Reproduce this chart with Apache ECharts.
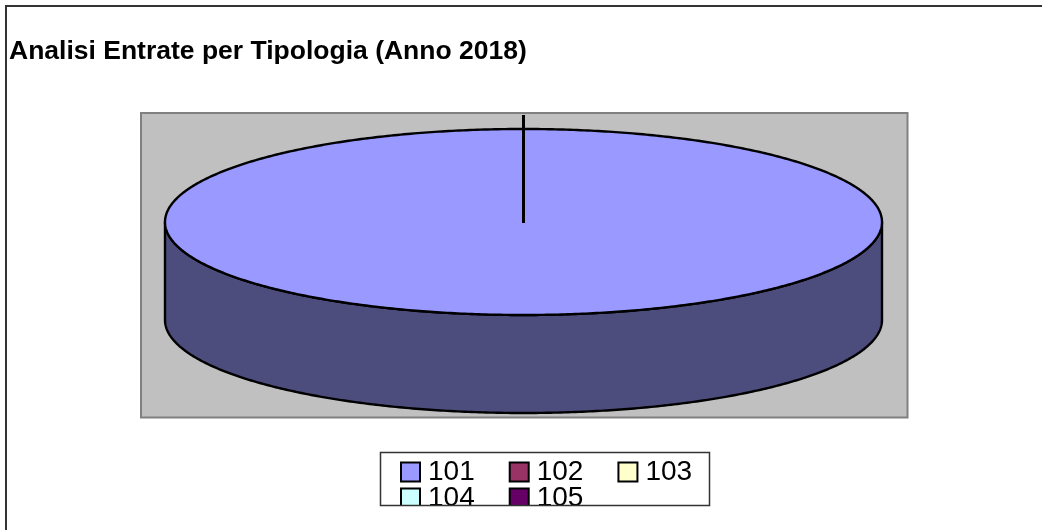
<!DOCTYPE html>
<html>
<head>
<meta charset="utf-8">
<title>Analisi Entrate per Tipologia</title>
<style>
  html, body { margin: 0; padding: 0; background: #fff; }
  #chart { width: 1042px; height: 530px; }
</style>
<script src="https://cdn.jsdelivr.net/npm/echarts@6/dist/echarts.min.js"></script>
</head>
<body>
<div id="chart"></div>
<script>
// dati: tutta la torta e' la tipologia 101
const categories = ['101', '102', '103', '104', '105'];
const values = [100, 0, 0, 0, 0];
const topColors = ['#9999ff', '#993366', '#ffffcc', '#ccffff', '#660066'];
const sideColors = ['#4d4d7d', '#4d1a33', '#808066', '#668080', '#330033'];
const titleText = 'Analisi Entrate per Tipologia (Anno 2018)';

// geometria della torta "3D"
const cx = 523.5, cy = 222, rx = 358.5, ry = 93, depth = 98;
const total = values.reduce((a, b) => a + b, 0);

function ellipsePoint(a, dy) {
  // a: angolo in radianti, 0 = ore 12, senso orario
  return [cx + rx * Math.sin(a), cy - ry * Math.cos(a) + (dy || 0)];
}

function arcPoints(a0, a1, dy) {
  const n = Math.max(2, Math.ceil(Math.abs(a1 - a0) / 0.01));
  const pts = [];
  for (let i = 0; i <= n; i++) {
    pts.push(ellipsePoint(a0 + (a1 - a0) * i / n, dy));
  }
  return pts;
}

function makeRenderItem(index) {
  return function (params, api) {
    const v = api.value(0);
    let before = 0;
    for (let i = 0; i < index; i++) before += values[i];
    if (!v) return { type: 'group', children: [] };
    const a0 = before / total * Math.PI * 2;
    const a1 = (before + v) / total * Math.PI * 2;
    const children = [];
    const lineStyle = { stroke: '#000', lineWidth: 2.4 };
    // parete laterale: solo la meta' davanti (da ore 3 a ore 9)
    const s0 = Math.max(a0, Math.PI / 2), s1 = Math.min(a1, Math.PI * 1.5);
    if (s1 > s0) {
      const front = arcPoints(s0, s1, 0);
      const back = arcPoints(s1, s0, depth);
      children.push({
        type: 'polygon',
        shape: { points: front.concat(back) },
        style: Object.assign({ fill: sideColors[index] }, lineStyle)
      });
    }
    // faccia superiore
    const top = arcPoints(a0, a1, 0);
    const full = a1 - a0 >= Math.PI * 2 - 1e-6;
    children.push({
      type: 'polygon',
      shape: { points: full ? top : top.concat([[cx, cy]]) },
      style: Object.assign({ fill: topColors[index] }, lineStyle)
    });
    // raggio di partenza e linea guida oltre il bordo
    const edge = ellipsePoint(a0);
    children.push({
      type: 'line',
      shape: { x1: cx, y1: cy + 1, x2: edge[0], y2: edge[1] - 14 },
      style: { stroke: '#000', lineWidth: 3 }
    });
    return { type: 'group', children: children };
  };
}

// una legenda per riga, per avere il passo verticale stretto dell'originale
function makeLegend(top, from, to) {
  return {
    left: 400,
    top: top,
    padding: 0,
    orient: 'horizontal',
    z: 5,
    selectedMode: false,
    itemWidth: 19,
    itemHeight: 19,
    itemGap: 34,
    icon: 'rect',
    textStyle: { fontFamily: 'Liberation Sans', fontSize: 28, color: '#000', padding: [4, 0, 0, 3] },
    data: categories.slice(from, to).map((c, i) => ({
      name: c,
      itemStyle: { color: topColors[from + i], borderColor: '#000', borderWidth: 2 }
    }))
  };
}

const chart = echarts.init(document.getElementById('chart'), null, { renderer: 'canvas' });

chart.setOption({
  animation: false,
  backgroundColor: '#fff',
  title: {
    text: titleText,
    left: 9,
    top: 38,
    padding: 0,
    textStyle: { fontFamily: 'Liberation Sans', fontSize: 26.5, fontWeight: 'bold', color: '#000' }
  },
  legend: [makeLegend(458, 0, 3), makeLegend(484, 3, 5)],
  graphic: [
    // cornice esterna
    { type: 'rect', z: 0, shape: { x: 6, y: 6, width: 1060, height: 600 },
      style: { fill: '#fff', stroke: '#333', lineWidth: 2 } },
    // area del tracciato
    { type: 'rect', z: 0, shape: { x: 141, y: 113, width: 766.5, height: 304.5 },
      style: { fill: '#c0c0c0', stroke: '#808080', lineWidth: 2 } },
    // riquadro legenda: la seconda riga viene tagliata
    { type: 'rect', z: 10, shape: { x: 381, y: 506, width: 330, height: 24 },
      style: { fill: '#fff' } },
    { type: 'rect', z: 10, shape: { x: 380.5, y: 452.5, width: 329, height: 53 },
      style: { fill: 'none', stroke: '#333', lineWidth: 1.5 } }
  ],
  series: categories.map((c, i) => ({
    name: c,
    type: 'custom',
    coordinateSystem: 'none',
    silent: true,
    z: 2,
    renderItem: makeRenderItem(i),
    data: [[values[i]]]
  }))
});
</script>
</body>
</html>
